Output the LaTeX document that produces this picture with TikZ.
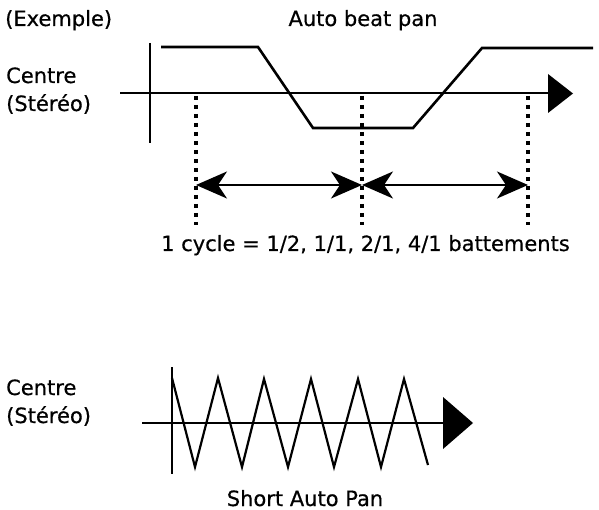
\documentclass[tikz,border=0pt]{standalone}
\usepackage{fontspec}
\setmainfont{DejaVu Sans}
\newfontfamily\lblfont{DejaVu Sans}[FakeBold=0.5]
\usetikzlibrary{arrows.meta}
\begin{document}
\begin{tikzpicture}[x=1pt,y=-1pt,
  lbl/.style={inner sep=0pt,font=\lblfont\fontsize{21}{25}\selectfont},
  axis/.style={line width=2.8pt},
  wave/.style={line width=2.6pt,line join=miter},
  zig/.style={line width=2.2pt,line join=miter},
  dotline/.style={line width=3.8pt,dash pattern=on 4.5pt off 4.5pt},
  dimarrow/.style={line width=2.2pt,{Stealth[length=31pt,width=27pt,inset=9pt]}-{Stealth[length=31pt,width=27pt,inset=9pt]}},
  bigtri/.style={fill=black,draw=none}]
\useasboundingbox (0,0) rectangle (599,510);
% ---------- top diagram ----------
\node[lbl,anchor=base west] (ex) at (5,26) {(Exemple)};
\node[lbl,anchor=base] (abp) at (363,26) {Auto beat pan};
\node[lbl,anchor=base west] (c1) at (6,83) {Centre};
\node[lbl,anchor=base west] (s1) at (6,111) {(Stéréo)};
\coordinate (vA1) at (150,43);
\coordinate (vA2) at (150,143);
\draw[axis] (vA1) -- (vA2);
\coordinate (hA1) at (120,93);
\coordinate (hA2) at (549,93);
\draw[axis] (hA1) -- (hA2);
\coordinate (t1) at (548,74);
\coordinate (t2) at (573,93.5);
\coordinate (t3) at (548,113);
\fill[bigtri] (t1) -- (t2) -- (t3) -- cycle;
\coordinate (w1) at (161,47);
\coordinate (w2) at (258,47);
\coordinate (w3) at (313,128);
\coordinate (w4) at (413,128);
\coordinate (w5) at (482,48);
\coordinate (w6) at (593,48);
\draw[wave] (w1) -- (w2) -- (w3) -- (w4) -- (w5) -- (w6);
\coordinate (d1a) at (196,96); \coordinate (d1b) at (196,225);
\coordinate (d2a) at (362,96); \coordinate (d2b) at (362,225);
\coordinate (d3a) at (528,96); \coordinate (d3b) at (528,225);
\draw[dotline] (d1a) -- (d1b);
\draw[dotline] (d2a) -- (d2b);
\draw[dotline] (d3a) -- (d3b);
\coordinate (a1) at (196,185);
\coordinate (a2) at (362,185);
\coordinate (a3) at (528,185);
\draw[dimarrow] (a1) -- (a2);
\draw[dimarrow] (a2) -- (a3);
\node[lbl,anchor=base west] (cyc) at (161,251) {1 cycle = 1/2, 1/1, 2/1, 4/1 battements};
% ---------- bottom diagram ----------
\node[lbl,anchor=base west] (c2) at (6,395) {Centre};
\node[lbl,anchor=base west] (s2) at (6,423) {(Stéréo)};
\coordinate (vB1) at (172,367);
\coordinate (vB2) at (172,474);
\draw[axis] (vB1) -- (vB2);
\coordinate (hB1) at (142,423);
\coordinate (hB2) at (444,423);
\draw[axis] (hB1) -- (hB2);
\coordinate (b1) at (443,397);
\coordinate (b2) at (473,423);
\coordinate (b3) at (443,449);
\fill[bigtri] (b1) -- (b2) -- (b3) -- cycle;
\draw[zig] (172,378) -- (195,467) -- (218,378) -- (242,467) -- (264,379)
  -- (288,467) -- (311,379) -- (334,467) -- (358,379) -- (381,467)
  -- (404,379) -- (428,465);
\node[lbl,anchor=base] (sap) at (305,506) {Short Auto Pan};
\end{tikzpicture}
\end{document}
